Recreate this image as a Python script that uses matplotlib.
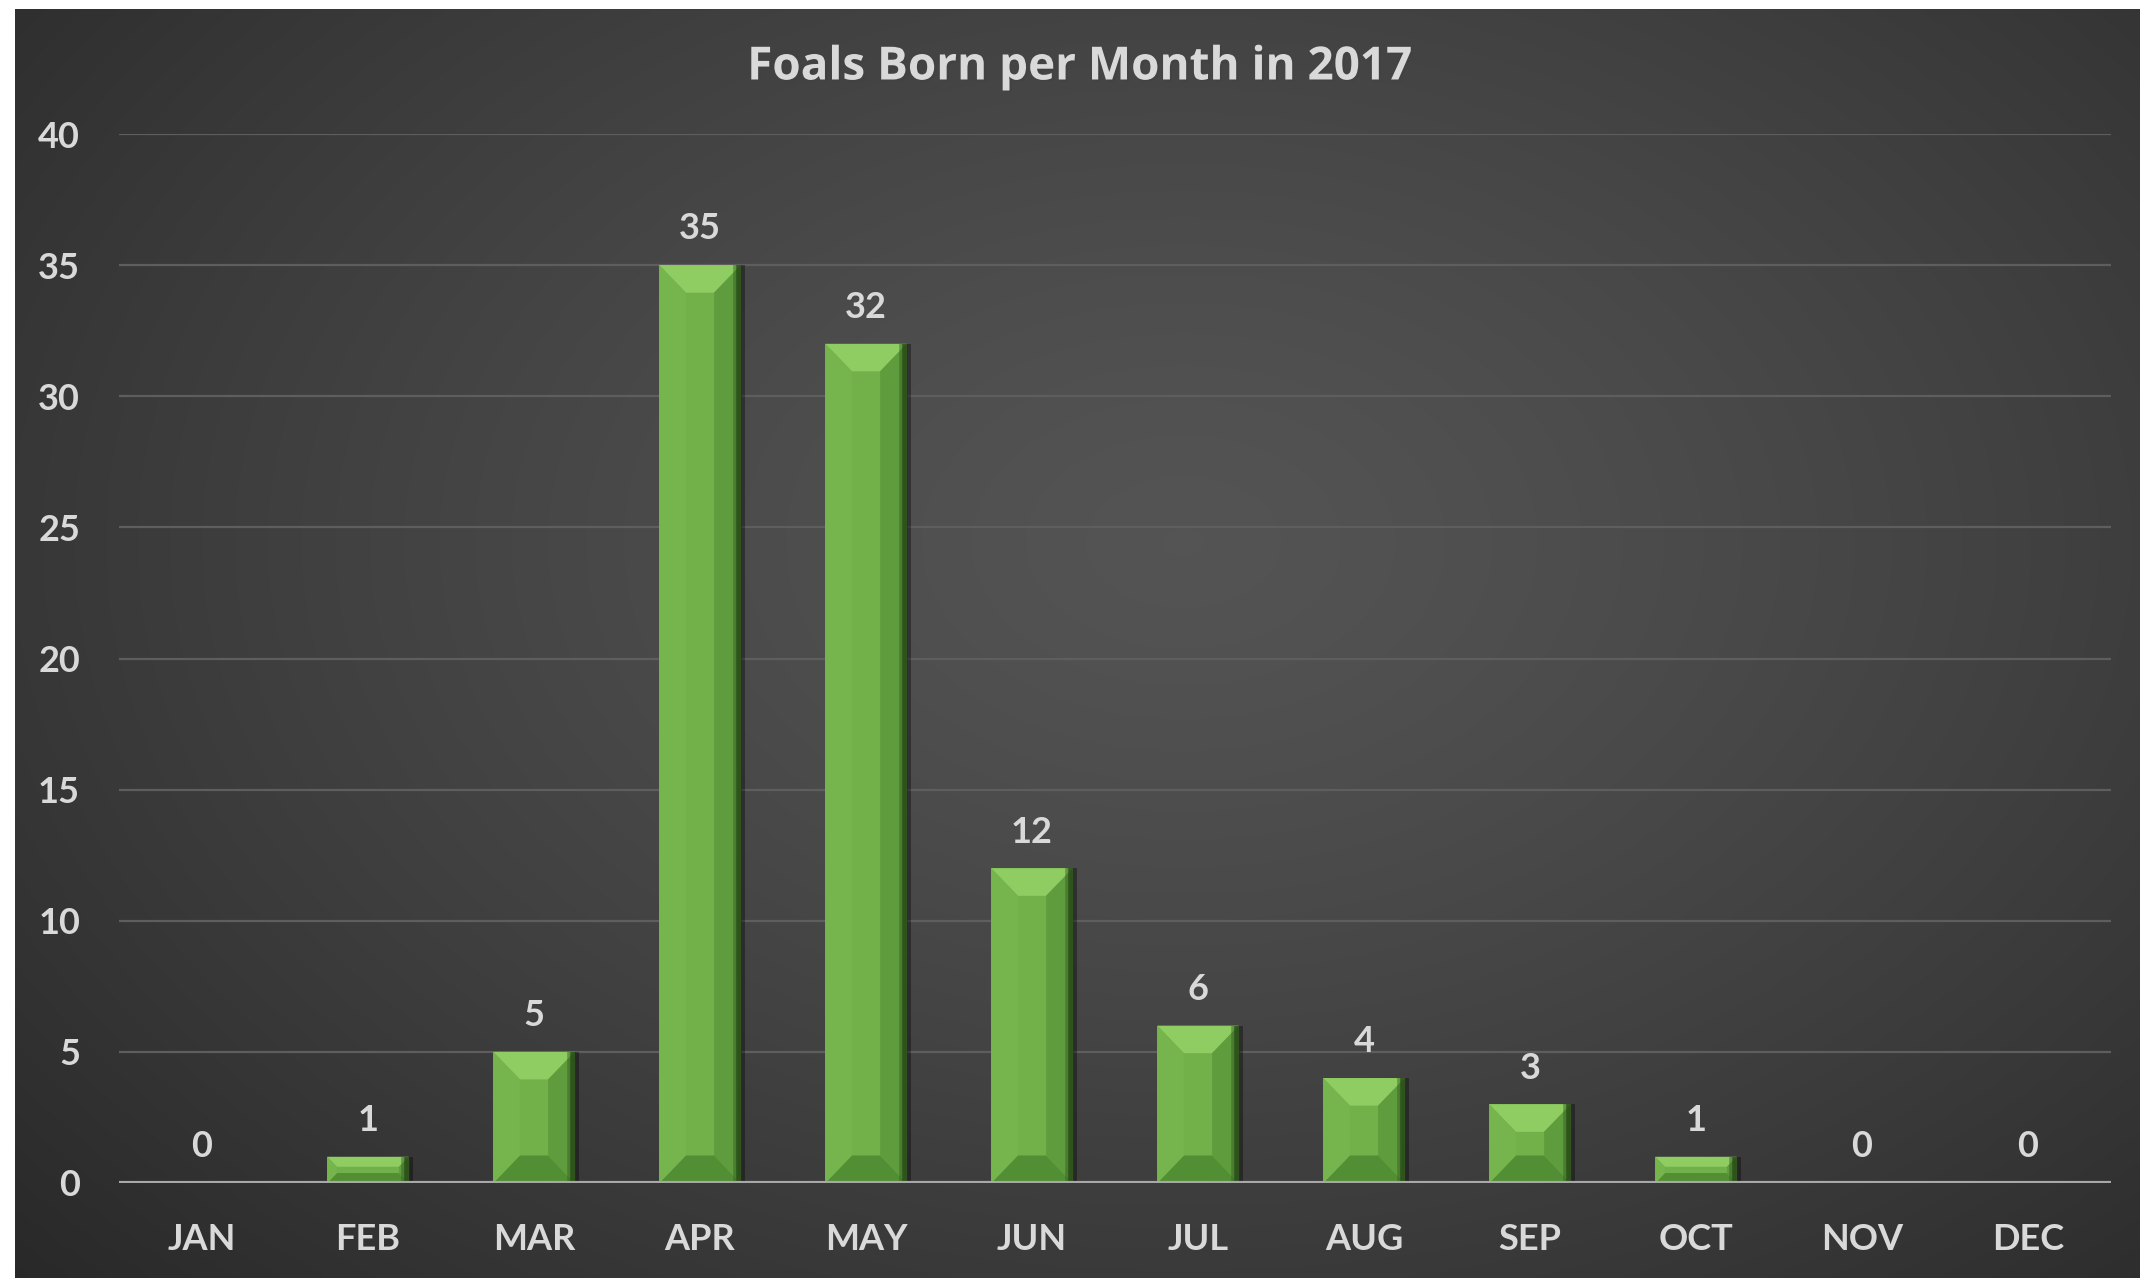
import numpy as np
import matplotlib
matplotlib.use("Agg")
import matplotlib.pyplot as plt
from matplotlib.patches import Polygon
import matplotlib.patheffects as pe

months = ["JAN", "FEB", "MAR", "APR", "MAY", "JUN",
          "JUL", "AUG", "SEP", "OCT", "NOV", "DEC"]
foals = [0, 1, 5, 35, 32, 12, 6, 4, 3, 1, 0, 0]
yticks = [0, 5, 10, 15, 20, 25, 30, 35, 40]
title = "Foals Born per Month in 2017"

W, H = 2140, 1278
txt = "#d9d9d9"
font = ["Lato", "DejaVu Sans"]

fig = plt.figure(figsize=(W / 100, H / 100), dpi=100, facecolor="white")

# dark radial background
bg = fig.add_axes([15 / W, 0, 1 - 15 / W, 1 - 9 / H])
bg.set_axis_off()
gx, gy = np.meshgrid(np.linspace(0, 1, 400), np.linspace(0, 1, 300))
r = np.sqrt(((gx - 0.55) / 0.75) ** 2 + ((gy - 0.42) / 0.85) ** 2)
r = np.clip(r, 0, 1)
shade = 0.33 - 0.17 * r ** 1.3
bg.imshow(np.dstack([shade, shade, shade]), aspect="auto", extent=[0, 1, 0, 1],
          origin="upper", interpolation="bilinear")

ax = fig.add_axes([119 / W, (H - 1183) / H, (2111 - 119) / W, (1183 - 134) / H])
ax.set_facecolor("none")
ax.set_xlim(-0.5, 11.5)
ax.set_ylim(0, 40)
for s in ax.spines.values():
    s.set_visible(False)

ax.set_yticks(yticks)
ax.set_xticks(range(len(months)))
ax.set_xticklabels(months)
ax.tick_params(length=0, colors=txt, labelsize=26)
ax.tick_params(axis="y", pad=28)
ax.tick_params(axis="x", pad=29)
for lab in ax.get_xticklabels() + ax.get_yticklabels():
    lab.set_family(font)
    lab.set_fontweight("bold")
    lab.set_color(txt)

ax.grid(axis="y", color="#5e5e5e", linewidth=1.6, zorder=0)
ax.set_axisbelow(True)
ax.axhline(0, color="#a8a8a8", linewidth=3, zorder=5)

bw = 0.49
x = np.arange(len(foals))
# soft shadow then main bars
ax.bar(x + 0.025, foals, width=bw, color="black", alpha=0.35, zorder=2)
ax.bar(x, foals, width=bw, color="#72b04a", zorder=3)

# bevel faces
dx_full, dy_full = 0.16, 1.05
for xi, v in zip(x, foals):
    if v <= 0:
        continue
    d = min(dy_full, v * 0.38)
    dx = dx_full * d / dy_full
    l, rr = xi - bw / 2, xi + bw / 2
    faces = [
        ([(l, v), (rr, v), (rr - dx, v - d), (l + dx, v - d)], "#8fcc62"),
        ([(l, 0), (rr, 0), (rr - dx, d), (l + dx, d)], "#528f34"),
        ([(l, 0), (l, v), (l + dx, v - d), (l + dx, d)], "#76b44d"),
        ([(rr, 0), (rr, v), (rr - dx, v - d), (rr - dx, d)], "#5e9c3d"),
    ]
    for pts, c in faces:
        ax.add_patch(Polygon(pts, closed=True, facecolor=c, edgecolor="none", zorder=4))
    ax.plot([rr - 0.01, rr - 0.01], [0, v], color="#1e3a12", linewidth=4,
            alpha=0.75, zorder=4, solid_capstyle="butt")
    ax.plot([rr - 0.03, rr - 0.03], [0, v], color="#2e5a1c", linewidth=4,
            alpha=0.45, zorder=4, solid_capstyle="butt")

for xi, v in zip(x, foals):
    ax.text(xi, v + 0.75, str(v), ha="center", va="bottom", fontsize=26,
            fontweight="bold", color=txt, family=font, zorder=6)

fig.text(1080 / W, 1 - 67 / H, title, ha="center", va="center", fontsize=33,
         fontweight="bold", color=txt, family=["Open Sans", "DejaVu Sans"],
         path_effects=[pe.withSimplePatchShadow(offset=(1.5, -1.5), alpha=0.5)])

fig.savefig("out.png", dpi=100, facecolor="white")
